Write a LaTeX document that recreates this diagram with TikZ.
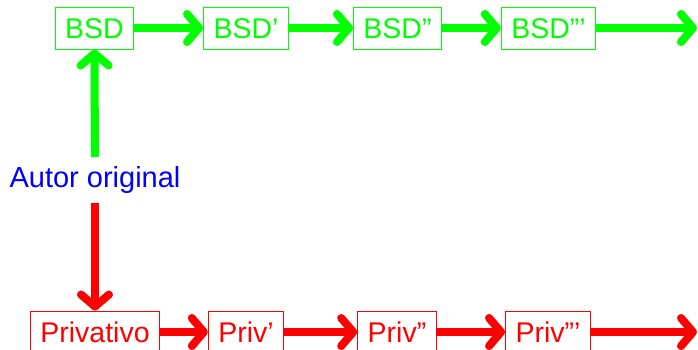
\documentclass[tikz,border=0pt]{standalone}
\usepackage{fontspec}
\setmainfont{Liberation Sans}
\usetikzlibrary{arrows.meta}
\definecolor{gr}{RGB}{0,255,0}
\definecolor{rd}{RGB}{255,0,0}
\definecolor{bl}{RGB}{0,0,255}
\begin{document}
\begin{tikzpicture}[x=1pt,y=-1pt,
  box/.style={draw=#1, text=#1, line width=1pt, font=\fontsize{28.5}{30}\selectfont,
    text height=20.5pt, text depth=0pt, inner xsep=10pt, inner ysep=10.75pt},
  arr/.style={draw=#1, line width=8pt,
    -{Straight Barb[length=12pt,width=28pt,round]}}]
\useasboundingbox (0,0) rectangle (698,349);
\node[box=gr] (b0) at (94.5,28) {BSD};
\node[box=gr] (b1) at (246,28) {BSD’};
\node[box=gr] (b2) at (397.5,28) {BSD”};
\node[box=gr] (b3) at (548.5,28) {BSD”’};
\coordinate (be) at (697,28);
\node[box=rd] (p0) at (95,332) {Privativo};
\node[box=rd] (p1) at (246,332) {Priv’};
\node[box=rd] (p2) at (397,332) {Priv”};
\node[box=rd] (p3) at (548,332) {Priv”’};
\coordinate (pe) at (697,332);
\node[text=bl, font=\fontsize{29}{30}\selectfont, inner sep=0pt, text height=20pt, text depth=6pt] (a) at (95,180) {Autor original};
\draw[arr=gr] (b0) -- (b1);
\draw[arr=gr] (b1) -- (b2);
\draw[arr=gr] (b2) -- (b3);
\draw[arr=gr] (b3) -- (be);
\draw[arr=rd] (p0) -- (p1);
\draw[arr=rd] (p1) -- (p2);
\draw[arr=rd] (p2) -- (p3);
\draw[arr=rd] (p3) -- (pe);
\draw[arr=gr, shorten <=10pt] (a.north) -- (b0.south);
\draw[arr=rd, shorten <=10pt] (a.south) -- (p0.north);
\end{tikzpicture}
\end{document}
